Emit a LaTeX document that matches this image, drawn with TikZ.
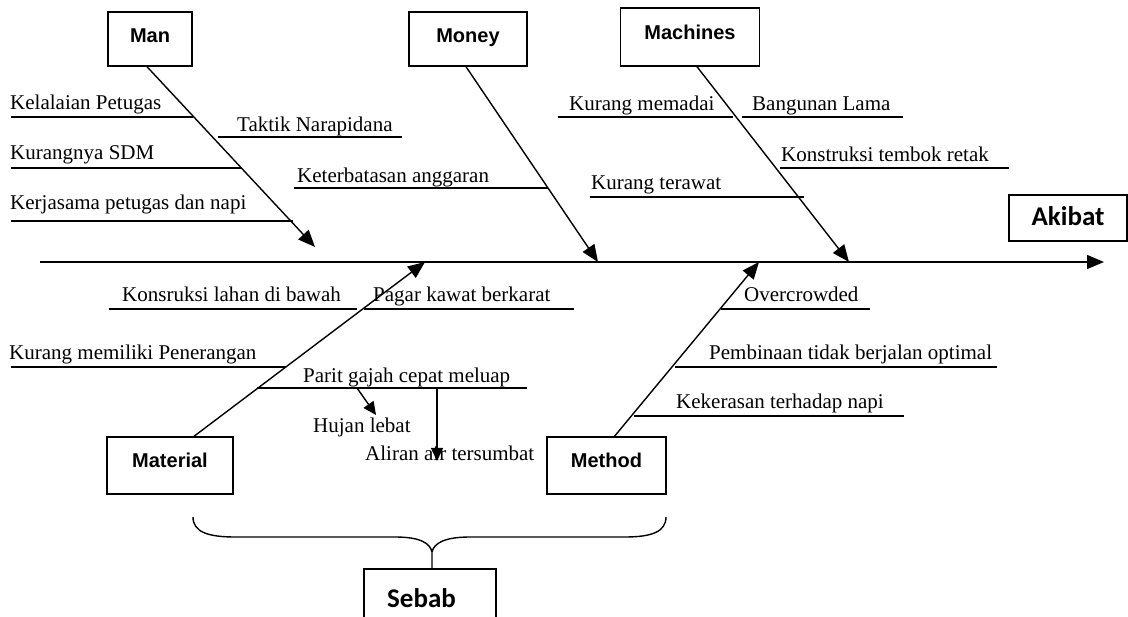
\documentclass[tikz,border=0pt]{standalone}
\usepackage{fontspec}
\setmainfont{Liberation Serif}
\newfontfamily\arialfont{Liberation Sans}
\newfontfamily\calibrifont{Carlito}
\usetikzlibrary{arrows.meta}
\begin{document}
\begin{tikzpicture}[x=1pt,y=-1pt,
  ln/.style={line width=1.4pt},
  arr/.style={line width=1.4pt,-{Triangle[length=17pt,width=14pt]}},
  smallarr/.style={line width=1.4pt,-{Triangle[length=13pt,width=12pt]}},
  catbox/.style={draw,line width=1.4pt,rectangle,inner sep=0pt,
    font=\arialfont\bfseries\fontsize{20}{24}\selectfont,text height=14pt},
  bigbox/.style={draw,line width=1.4pt,rectangle,inner sep=0pt,
    font=\calibrifont\bfseries\fontsize{27}{32}\selectfont},
  cause/.style={font=\fontsize{21}{25}\selectfont,anchor=base west,inner sep=0pt}]
\useasboundingbox (0,0) rectangle (1128,617);
\clip (0,0) rectangle (1128,617);

% spine
\coordinate (spineL) at (40,262);
\coordinate (spineR) at (1104,262);
\draw[arr] (spineL) -- (spineR);

% category boxes
\node[catbox,minimum width=84pt,minimum height=54pt,text depth=6pt] (man) at (150,39) {Man};
\node[catbox,minimum width=118pt,minimum height=54pt,text depth=6pt] (money) at (468,39) {Money};
\node[catbox,minimum width=139pt,minimum height=58pt,text depth=8pt] (machines) at (690,37) {Machines};
\node[catbox,minimum width=126pt,minimum height=57pt,text depth=9pt] (material) at (170,465.5) {Material};
\node[catbox,minimum width=119pt,minimum height=57pt,text depth=9pt] (method) at (606.5,465.5) {Method};
\node[bigbox,minimum width=118pt,minimum height=46pt,text height=18pt,text depth=3pt] (akibat) at (1068,218) {Akibat};
\node[draw,line width=1.4pt,rectangle,minimum width=132pt,minimum height=60pt] (sebab) at (430,599) {};
\node[font=\calibrifont\bfseries\fontsize{27}{32}\selectfont,anchor=base,inner sep=0pt] (sebabtxt) at (421.5,607) {Sebab};

% tips on the spine
\coordinate (manTip) at (315,247);
\coordinate (moneyTip) at (598,262);
\coordinate (machTip) at (849,262);
\coordinate (matTip) at (425,262);
\coordinate (methTip) at (759,262);

\draw[arr] ([xshift=-3pt]man.south) -- (manTip);
\draw[arr] ([xshift=-2pt]money.south) -- (moneyTip);
\draw[arr] ([xshift=7pt]machines.south) -- (machTip);
\draw[arr] ([xshift=24pt]material.north) -- (matTip);
\draw[arr] ([xshift=8pt]method.north) -- (methTip);

% Man causes
\node[cause] (c1) at (10,110) {Kelalaian Petugas};
\draw[ln] (11,117) -- (193,117);
\node[cause] (c2) at (237,132) {Taktik Narapidana};
\draw[ln] (218,137) -- (402,137);
\node[cause] (c3) at (10,160) {Kurangnya SDM};
\draw[ln] (11,168) -- (241,168);
\node[cause] (c4) at (10,210) {Kerjasama petugas dan napi};
\draw[ln] (11,221) -- (293,221);

% Money causes
\node[cause] (c5) at (297,183) {Keterbatasan anggaran};
\draw[ln] (294,188) -- (548,188);

% Machines causes
\node[cause] (c6) at (569,111) {Kurang memadai};
\draw[ln] (558,117) -- (733,117);
\node[cause] (c7) at (752,111) {Bangunan Lama};
\draw[ln] (742,117) -- (903,117);
\node[cause] (c8) at (781,162) {Konstruksi tembok retak};
\draw[ln] (780,168) -- (1009,168);
\node[cause] (c9) at (591,190) {Kurang terawat};
\draw[ln] (590,197) -- (804,197);

% Material causes
\node[cause] (c10) at (122,302) {Konsruksi lahan di bawah};
\draw[ln] (109,309) -- (357,309);
\node[cause] (c11) at (373,302) {Pagar kawat berkarat};
\draw[ln] (364,309) -- (574,309);
\node[cause] (c12) at (9,360) {Kurang memiliki Penerangan};
\draw[ln] (11,367) -- (286,367);
\node[cause] (c13) at (303,383) {Parit gajah cepat meluap};
\draw[ln] (257,388) -- (527,388);
\node[cause] (c14) at (313,433) {Hujan lebat};
\node[cause] (c15) at (365,461) {Aliran air tersumbat};
\coordinate (hujanS) at (357,388);
\coordinate (hujanE) at (376,415);
\coordinate (aliranS) at (437,388);
\coordinate (aliranE) at (437,461);
\draw[smallarr] (hujanS) -- (hujanE);
\draw[smallarr] (aliranS) -- (aliranE);

% Method causes
\node[cause] (c16) at (744,302) {Overcrowded};
\draw[ln] (721,309) -- (870,309);
\node[cause] (c17) at (709,360) {Pembinaan tidak berjalan optimal};
\draw[ln] (675,367) -- (997,367);
\node[cause] (c18) at (676,409) {Kekerasan terhadap napi};
\draw[ln] (634,416) -- (904,416);

% brace
\coordinate (brL) at (193,517);
\coordinate (brR) at (666,517);
\coordinate (brM) at (432,552);
\draw[ln] (brL) .. controls (193,532) and (208,537) .. (235,537) -- (395,537)
  .. controls (420,537) and (430,543) .. (brM) -- (sebab.north -| brM);
\draw[ln] (brR) .. controls (666,532) and (651,537) .. (625,537) -- (470,537)
  .. controls (445,537) and (434,543) .. (brM);
\end{tikzpicture}
\end{document}
